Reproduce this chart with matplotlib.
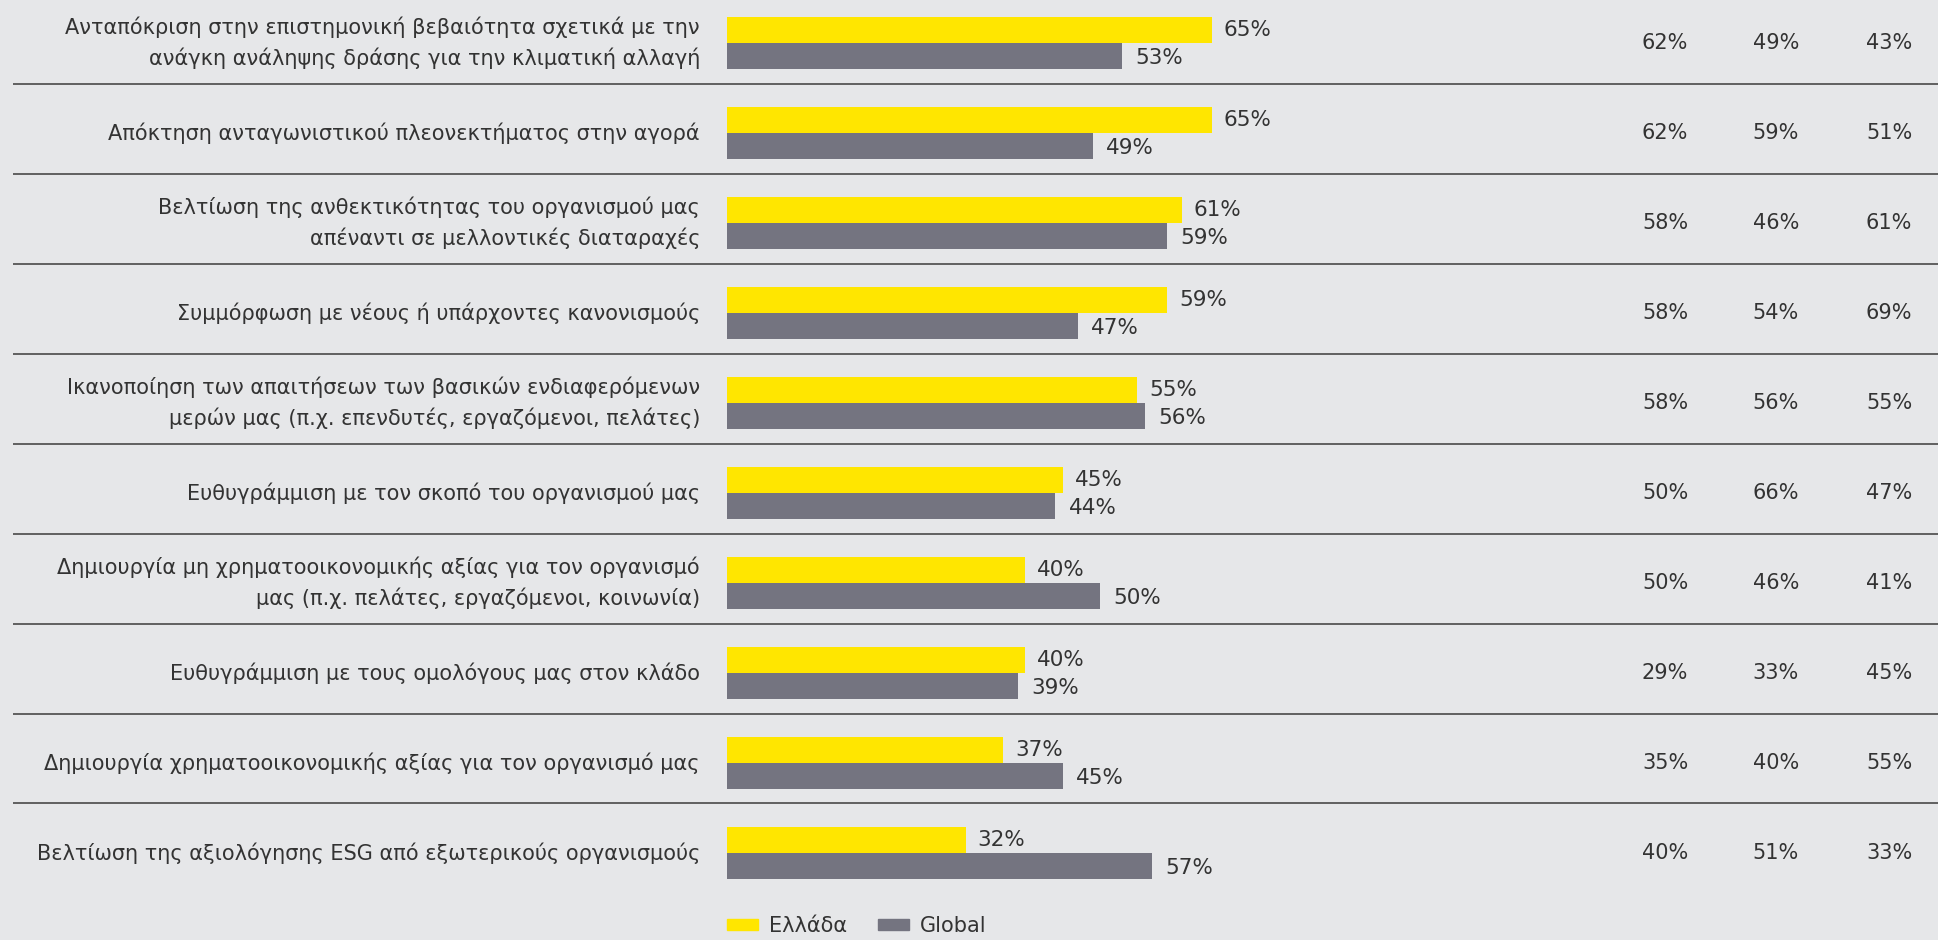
import matplotlib
matplotlib.use('Agg')
import matplotlib.pyplot as plt
from matplotlib.patches import Patch
import numpy as np

labels = [
    'Ανταπόκριση στην επιστημονική βεβαιότητα σχετικά με την\nανάγκη ανάληψης δράσης για την κλιματική αλλαγή',
    'Απόκτηση ανταγωνιστικού πλεονεκτήματος στην αγορά',
    'Βελτίωση της ανθεκτικότητας του οργανισμού μας\nαπέναντι σε μελλοντικές διαταραχές',
    'Συμμόρφωση με νέους ή υπάρχοντες κανονισμούς',
    'Ικανοποίηση των απαιτήσεων των βασικών ενδιαφερόμενων\nμερών μας (π.χ. επενδυτές, εργαζόμενοι, πελάτες)',
    'Ευθυγράμμιση με τον σκοπό του οργανισμού μας',
    'Δημιουργία μη χρηματοοικονομικής αξίας για τον οργανισμό\nμας (π.χ. πελάτες, εργαζόμενοι, κοινωνία)',
    'Ευθυγράμμιση με τους ομολόγους μας στον κλάδο',
    'Δημιουργία χρηματοοικονομικής αξίας για τον οργανισμό μας',
    'Βελτίωση της αξιολόγησης ESG από εξωτερικούς οργανισμούς',
]
greece = [65, 65, 61, 59, 55, 45, 40, 40, 37, 32]
global_ = [53, 49, 59, 47, 56, 44, 50, 39, 45, 57]
col1 = [62, 62, 58, 58, 58, 50, 50, 29, 35, 40]
col2 = [49, 59, 46, 54, 56, 66, 46, 33, 40, 51]
col3 = [43, 51, 61, 69, 55, 47, 41, 45, 55, 33]

YELLOW = '#FFE600'
GREY = '#747480'
BG = '#E6E7E9'
TXT = '#333333'

W, H = 1938, 940
fig = plt.figure(figsize=(W / 100, H / 100), dpi=100, facecolor=BG)

n = len(labels)
y = np.arange(n)
row_px = 90.0
top = -43 / row_px
bottom = top + H / row_px

# base axes for labels, separators and side columns
ax0 = fig.add_axes([0, 0, 1, 1])
ax0.set_xlim(0, 1)
ax0.set_ylim(bottom, top)
ax0.axis('off')
ax0.hlines(y[:-1] + 0.45, 13 / W, 1, color='#555555', lw=1.3)
for i, lab in enumerate(labels):
    ax0.text(700 / W, i, lab, ha='right', va='center', fontsize=15, color=TXT,
             linespacing=1.55)
for xc, col in zip([1665, 1776, 1889], [col1, col2, col3]):
    for i, v in enumerate(col):
        ax0.text(xc / W, i, f'{v}%', ha='center', va='center', fontsize=15, color=TXT)

# bar axes
ax = fig.add_axes([727 / W, 0, 746 / W, 1])
ax.set_xlim(0, 100)
ax.set_ylim(bottom, top)
ax.axis('off')
ax.patch.set_alpha(0)
h = 26 / row_px
ax.barh(y - h / 2, greece, height=h, color=YELLOW)
ax.barh(y + h / 2, global_, height=h, color=GREY)
for i in range(n):
    ax.text(greece[i] + 1.6, i - h / 2, f'{greece[i]}%', ha='left', va='center',
            fontsize=15.5, color=TXT)
    ax.text(global_[i] + 1.8, i + h / 2 + 0.02, f'{global_[i]}%', ha='left', va='center',
            fontsize=15.5, color=TXT)

handles = [Patch(color=YELLOW, label='Ελλάδα'), Patch(color=GREY, label='Global')]
fig.legend(handles=handles, loc='center left', bbox_to_anchor=(727 / W, 1 - 926 / H),
           ncol=2, frameon=False, fontsize=15, handlelength=1.5, handleheight=0.45,
           columnspacing=1.5, handletextpad=0.5, borderpad=0, borderaxespad=0,
           labelcolor=TXT)

fig.savefig('out.png', dpi=100, facecolor=BG)
